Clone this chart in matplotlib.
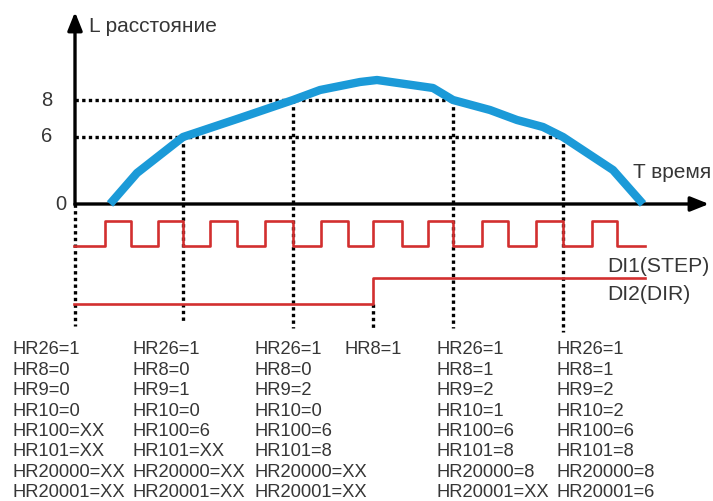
import numpy as np
import matplotlib
matplotlib.use("Agg")
import matplotlib.pyplot as plt

plt.rcParams['font.family'] = ['Liberation Sans', 'DejaVu Sans']

# distance curve L(T), picture units (x to the right, y downwards)
curve_x = [110, 137, 183, 213, 240, 293, 320, 360, 377, 433, 453, 490, 517, 543, 563, 613, 643]
curve_y = [204, 173, 137, 127, 118, 100, 90, 82, 80, 88, 100, 110, 120, 127, 137, 170, 204]

# L axis tick labels and their levels
level_labels = ["8", "6", "0"]
level_y = [100, 137, 204]

# moments where the registers are read
mark_x = [75, 183, 293, 373, 453, 563]
mark_top = [204, 137, 100, 304, 100, 137]
mark_bottom = [326, 323, 328, 330, 328, 332]

# DI1 (STEP) edges: rising / falling
step_rise = [105, 158, 210, 265, 321, 373, 428, 482, 536, 592]
step_fall = [131, 183, 237, 293, 348, 402, 453, 508, 563, 617]
step_start, step_end = 74, 645
step_low, step_high = 246, 221

# DI2 (DIR)
dir_x = [74, 373, 645]
dir_y = [304, 278, 278]

# register tables under each mark
columns = [
    ["HR26=1", "HR8=0", "HR9=0", "HR10=0", "HR100=XX", "HR101=XX", "HR20000=XX", "HR20001=XX"],
    ["HR26=1", "HR8=0", "HR9=1", "HR10=0", "HR100=6", "HR101=XX", "HR20000=XX", "HR20001=XX"],
    ["HR26=1", "HR8=0", "HR9=2", "HR10=0", "HR100=6", "HR101=8", "HR20000=XX", "HR20001=XX"],
    ["HR8=1"],
    ["HR26=1", "HR8=1", "HR9=2", "HR10=1", "HR100=6", "HR101=8", "HR20000=8", "HR20001=XX"],
    ["HR26=1", "HR8=1", "HR9=2", "HR10=2", "HR100=6", "HR101=8", "HR20000=8", "HR20001=6"],
]
column_x = [13, 133, 255, 345, 436, 557]

txt = "#363636"
red = "#d22f2f"
blue = "#1b9ad8"

fig = plt.figure(figsize=(7.13, 5.01), dpi=100)
ax = fig.add_axes([0, 0, 1, 1])
ax.set_xlim(0, 713)
ax.set_ylim(501, 0)
ax.axis("off")

dot = dict(color="black", lw=2.4, linestyle=(0, (1, 1.0)), zorder=2)

# dotted guides
ax.plot([75, 453], [level_y[0], level_y[0]], **dot)
ax.plot([75, 563], [level_y[1], level_y[1]], **dot)
for x, t, b in zip(mark_x, mark_top, mark_bottom):
    ax.plot([x, x], [t, b], **dot)

# axes with arrows
arrow = dict(arrowstyle="-|>,head_length=0.55,head_width=0.22", lw=2.4,
             color="black", mutation_scale=20, shrinkA=0, shrinkB=0)
ax.annotate("", xy=(709, 204), xytext=(75, 204), arrowprops=arrow, zorder=3)
ax.annotate("", xy=(75, 12), xytext=(75, 205), arrowprops=arrow, zorder=3)

# distance curve
ax.plot(curve_x, curve_y, color=blue, lw=6, solid_joinstyle="round",
        solid_capstyle="butt", zorder=4)

# STEP pulses
edges = np.sort(np.array(step_rise + step_fall))
sx = np.concatenate([[step_start], edges, [step_end]])
sy = [step_low]
for e in edges:
    sy.append(step_high if e in step_rise else step_low)
sy.append(sy[-1])
ax.plot(sx, sy, color=red, lw=1.9, drawstyle="steps-post", zorder=3)

# DIR level
ax.plot(dir_x, dir_y, color=red, lw=1.9, drawstyle="steps-post", zorder=3)

# labels
for lab, y in zip(level_labels, level_y):
    ax.text(52 if lab != "0" else 66, y, lab, ha="right", va="center",
            fontsize=14.5, color=txt)
ax.text(89, 26, "L расстояние", ha="left", va="center", fontsize=15, color=txt)
ax.text(633, 173, "T время", ha="left", va="center", fontsize=15, color=txt)
ax.text(607, 266, "DI1(STEP)", ha="left", va="center", fontsize=15.2, color=txt)
ax.text(607, 295, "DI2(DIR)", ha="left", va="center", fontsize=15.2, color=txt)

row_y0, row_dy = 350, 20.4
for col, cx in zip(columns, column_x):
    for i, s in enumerate(col):
        ax.text(cx, row_y0 + i * row_dy, s, ha="left", va="center",
                fontsize=13.2, color=txt)

fig.savefig("out.png", dpi=100)
